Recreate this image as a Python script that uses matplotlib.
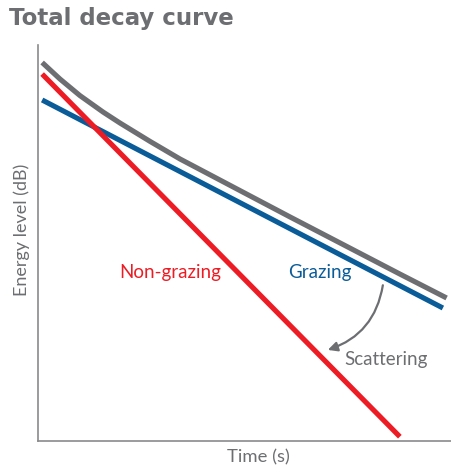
import matplotlib
matplotlib.use("Agg")
import matplotlib.pyplot as plt

# Data (time in arbitrary units, energy level in dB)
red_t = [0.1, 8.74]
red_db = [-4.4, -59.35]
blue_t = [0.1, 9.78]
blue_db = [-8.33, -39.85]
gray_t = [0.1, 0.53, 1.01, 1.57, 1.98, 2.71, 3.43, 6.09, 8.74, 9.87]
gray_db = [-2.65, -5.15, -7.65, -10.15, -11.82, -14.62, -17.27, -26.06, -34.70, -38.33]

RED = "#ed1c24"
BLUE = "#0a5c99"
GRAY = "#6d6e71"

plt.rcParams['font.family'] = ['Lato', 'DejaVu Sans']

fig = plt.figure(figsize=(4.52, 4.67), dpi=100)
ax = fig.add_axes([38/452, 26/467, 1 - 38/452, (441-45)/467])
ax.set_xlim(0, 10)
ax.set_ylim(-60, 0)

lw = 3.7
ax.plot(red_t, red_db, color=RED, lw=lw, solid_capstyle='butt', zorder=3)
ax.plot(blue_t, blue_db, color=BLUE, lw=lw, solid_capstyle='butt', zorder=2)
ax.plot(gray_t, gray_db, color=GRAY, lw=lw, solid_capstyle='butt',
        solid_joinstyle='round', zorder=1)

for s in ['top', 'right']:
    ax.spines[s].set_visible(False)
for s in ['left', 'bottom']:
    ax.spines[s].set_color('#8a8a8d')
    ax.spines[s].set_linewidth(1.2)
ax.set_xticks([])
ax.set_yticks([])

fs = 13.5
ax.text(3.19, -34.4, "Non-grazing", color=RED, fontsize=fs, ha='center', va='center')
ax.text(6.81, -34.4, "Grazing", color=BLUE, fontsize=fs, ha='center', va='center')
ax.text(8.41, -47.7, "Scattering", color=GRAY, fontsize=fs, ha='center', va='center')
ax.annotate("", xy=(7.0, -46.2), xytext=(8.33, -36.4),
            arrowprops=dict(arrowstyle='-|>', color=GRAY, lw=1.6,
                            connectionstyle='arc3,rad=-0.3', mutation_scale=14,
                            shrinkA=0, shrinkB=0))

fig.text(9/452, 1 - 18/467, "Total decay curve", color=GRAY, fontsize=16.5,
         fontweight='bold', family='DejaVu Sans', ha='left', va='center')
fig.text(22/452, 1 - 230/467, "Energy level (dB)", color=GRAY, fontsize=13,
         rotation=90, ha='center', va='center')
fig.text(258/452, 1 - 457/467, "Time (s)", color=GRAY, fontsize=13.3,
         ha='center', va='center')

fig.savefig("out.png", dpi=100)
